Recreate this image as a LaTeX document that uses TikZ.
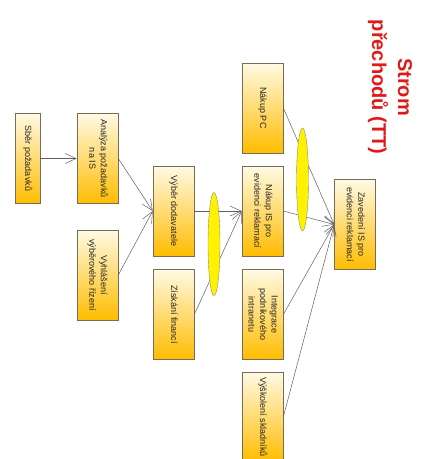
\documentclass[tikz,border=0pt]{standalone}
\usepackage{fontspec}
\setmainfont{Liberation Sans}
\usepackage{graphicx}
\usetikzlibrary{arrows.meta,shapes.geometric}
\definecolor{boxtop}{RGB}{255,250,228}
\definecolor{boxbottom}{RGB}{255,188,0}
\definecolor{boxline}{RGB}{120,108,88}
\definecolor{wire}{RGB}{95,95,95}
\definecolor{titlered}{RGB}{225,25,25}
\newcommand{\turned}[1]{\rotatebox{-90}{\begin{tabular}{@{}c@{}}#1\end{tabular}}}

\begin{document}
\begin{tikzpicture}
    [
        x=1pt, y=-1pt,
        activity/.style={rectangle, draw=boxline, line width=0.6pt, top color=boxtop, bottom color=boxbottom, minimum width=41pt, minimum height=90pt, inner sep=0pt, font=\fontsize{9}{11.5}\selectfont, text=black!85},
        gate/.style={ellipse, draw=black!45, fill=yellow, minimum width=12pt, minimum height=103pt, inner sep=0pt},
        flow/.style={draw=wire, line width=0.5pt, -{Straight Barb[length=11pt,width=10pt]}},
    ]
    \useasboundingbox (0,0) rectangle (425,459);
    \node (title) at (390,87) [rotate=-90, align=center, text=titlered, font=\fontsize{20}{26}\selectfont\bfseries] {Strom\\přechodů (TT)};
    \node (sber) at (27.5,158.5) [activity, minimum width=25pt] {\turned{Sběr požadavků}};
    \node (analyza) at (97.5,158.5) [activity] {\turned{Analýza požadavků\\na IS}};
    \node (vyhlaseni) at (97.5,275) [activity] {\turned{Vyhlášení\\výběrového řízení}};
    \node (vyber) at (173.5,211) [activity] {\turned{Výběr dodavatele}};
    \node (finance) at (173.5,314.5) [activity] {\turned{Získání financí}};
    \node (nakuppc) at (262.5,108) [activity] {\turned{Nákup PC}};
    \node (nakupis) at (262.5,211) [activity] {\turned{Nákup IS pro\\evidenci reklamací}};
    \node (intranet) at (262.5,314.5) [activity] {\turned{Integrace\\podnikového\\intranetu}};
    \node (skoleni) at (262.5,417) [activity] {\turned{Výškolení skladníků}};
    \node (zavedeni) at (355,224.5) [activity] {\turned{Zavedení IS pro\\evidenci reklamací}};
    \draw [flow] (sber) -- (analyza);
    \draw [flow] (analyza.east) -- (vyber.west);
    \draw [flow] (vyhlaseni.east) -- (vyber.west);
    \draw [flow] (vyber.east) -- (nakupis.west);
    \draw [flow] (finance.east) -- (nakupis.west);
    \draw [flow] (nakuppc.east) -- (zavedeni.west);
    \draw [flow] (nakupis.east) -- (zavedeni.west);
    \draw [flow] (intranet.east) -- (zavedeni.west);
    \draw [flow] (skoleni.east) -- (zavedeni.west);
    \node (and1) at (214,244) [gate] {};
    \node (and2) at (302.5,179.5) [gate] {};
\end{tikzpicture}
\end{document}
